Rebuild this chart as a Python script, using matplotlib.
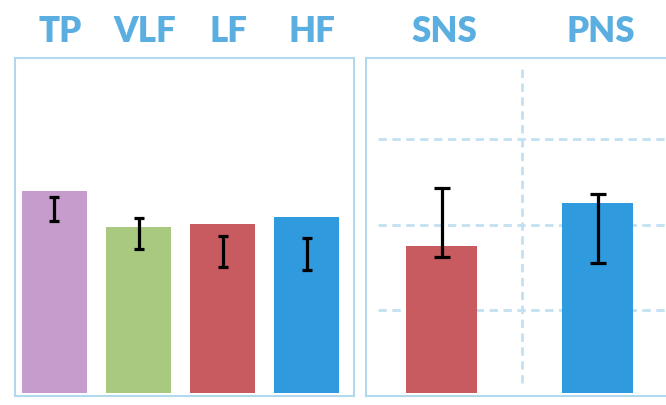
import matplotlib
matplotlib.use("Agg")
import matplotlib.pyplot as plt
import numpy as np

# ---- data ----
left_cats = ["TP", "VLF", "LF", "HF"]
left_vals = [2.40, 1.98, 2.01, 2.09]
left_err_hi = [2.33, 2.08, 1.87, 1.85]
left_err_lo = [2.04, 1.72, 1.51, 1.47]
left_colors = ["#c59ccb", "#a9c880", "#c75b60", "#2f9add"]

right_cats = ["SNS", "PNS"]
right_vals = [1.75, 2.26]
right_err_hi = [2.43, 2.36]
right_err_lo = [1.63, 1.56]
right_colors = ["#c75b60", "#2f9add"]

grid_vals = [1, 2, 3]

TITLE_C = "#5aaee0"
SPINE_C = "#b2d8ec"
GRID_C = "#c2e0f1"
BASE = 0.035
YTOP = 3.95

fig = plt.figure(figsize=(6.66, 4.05), dpi=100)
fig.patch.set_facecolor("white")

def style(ax):
    ax.set_ylim(0, YTOP)
    ax.set_xticks([])
    ax.set_yticks([])
    for s in ax.spines.values():
        s.set_color(SPINE_C)
        s.set_linewidth(1.5)

TITLE_KW = dict(ha="center", va="center", fontsize=25, fontweight="heavy",
                color=TITLE_C, family="Lato")

# left panel
axL = fig.add_axes([15/666, 1-396/405, 339/666, 338/405])
style(axL)
xl = np.arange(len(left_cats))
axL.bar(xl, np.array(left_vals) - BASE, bottom=BASE, width=0.77, color=left_colors, zorder=2)
mid = (np.array(left_err_hi) + np.array(left_err_lo)) / 2
half = (np.array(left_err_hi) - np.array(left_err_lo)) / 2
axL.errorbar(xl, mid, yerr=half, fmt="none", ecolor="black", elinewidth=2.3,
             capsize=3.5, capthick=2.3, zorder=3)
axL.set_xlim(-0.47, 3.565)
for i, c in enumerate(left_cats):
    axL.text(i + 0.07, 1.0 + 26/338, c, transform=axL.get_xaxis_transform(), **TITLE_KW)

# right panel
axR = fig.add_axes([366/666, 1-396/405, 312/666, 338/405])
style(axR)
xr = np.arange(len(right_cats))
axR.set_xlim(-0.484, 1.516)
for g in grid_vals:
    axR.plot([-0.41, 1.6], [g, g], color=GRID_C, lw=2, ls=(0, (3, 2)), zorder=1)
axR.plot([0.516, 0.516], [0.15, 3.84], color=GRID_C, lw=2, ls=(0, (3, 2)), zorder=1)
axR.bar(xr, np.array(right_vals) - BASE, bottom=BASE, width=0.455, color=right_colors, zorder=2)
mid = (np.array(right_err_hi) + np.array(right_err_lo)) / 2
half = (np.array(right_err_hi) - np.array(right_err_lo)) / 2
axR.errorbar(xr, mid, yerr=half, fmt="none", ecolor="black", elinewidth=2.3,
             capsize=6, capthick=2.3, zorder=3)
for i, c in enumerate(right_cats):
    axR.text(i + 0.02, 1.0 + 26/338, c, transform=axR.get_xaxis_transform(), **TITLE_KW)

fig.savefig("out.png", dpi=100, facecolor="white")
